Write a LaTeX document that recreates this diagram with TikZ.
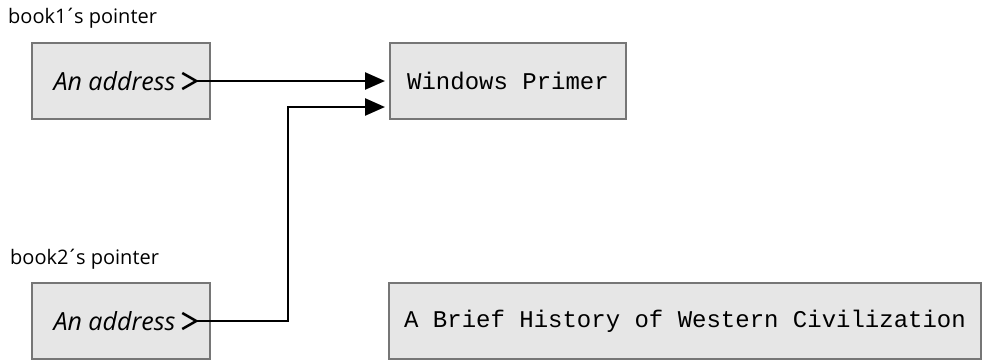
\documentclass[tikz,border=0pt]{standalone}
\usepackage{fontspec}
\setmainfont{Open Sans}
\setmonofont{Liberation Mono}
\usepackage{xcolor}
\usepackage{tikz}
\usetikzlibrary{positioning, arrows.meta}
\definecolor{boxgray}{HTML}{E6E6E6}
\definecolor{edgegray}{HTML}{767676}
\newcommand{\tick}{\kern-2pt´\kern-2pt}

\tikzset{
  membox/.style={fill=boxgray, draw=edgegray, line width=2pt, inner sep=0pt},
  addrbox/.style={membox, minimum width=178pt, minimum height=76pt,
    font=\fontsize{25}{30}\selectfont\itshape},
  titlebox/.style={membox, minimum height=76pt,
    font=\fontsize{24}{28}\selectfont\ttfamily},
  ptrlabel/.style={anchor=base west, inner sep=0pt,
    font=\fontsize{20}{24}\selectfont},
  ptrline/.style={line width=2.5pt,
    {Straight Barb[reversed, length=14pt, width=16pt]}-{Triangle[length=20pt, width=17pt]},
    shorten >=4pt}
}

\begin{document}
\begin{tikzpicture}[x=1pt, y=-1pt]
    \useasboundingbox (0,0) rectangle (984,360);
    % pointers
    \node[ptrlabel] (lbl1) at (8,23) {book1\tick s pointer};
    \node[addrbox] (addr1) at (121,81) {An address\hspace{13pt}\mbox{}};
    \node[ptrlabel] (lbl2) at (10,264) {book2\tick s pointer};
    \node[addrbox] (addr2) at (121,321) {An address\hspace{13pt}\mbox{}};
    % books
    \node[titlebox, minimum width=236pt] (book1) at (508,81) {Windows Primer};
    \node[titlebox, minimum width=592pt] (book2) at (685,321) {A Brief History of Western Civilization};
    \coordinate (ptr1) at ([xshift=-30pt]addr1.east);
    \coordinate (ptr2) at ([xshift=-30pt]addr2.east);
    \coordinate (bend) at (288,107);
    \draw[ptrline] (ptr1) -- (book1.west);
    \draw[ptrline] (ptr2) -| (bend) -- (bend -| book1.west);
  \end{tikzpicture}
\end{document}
